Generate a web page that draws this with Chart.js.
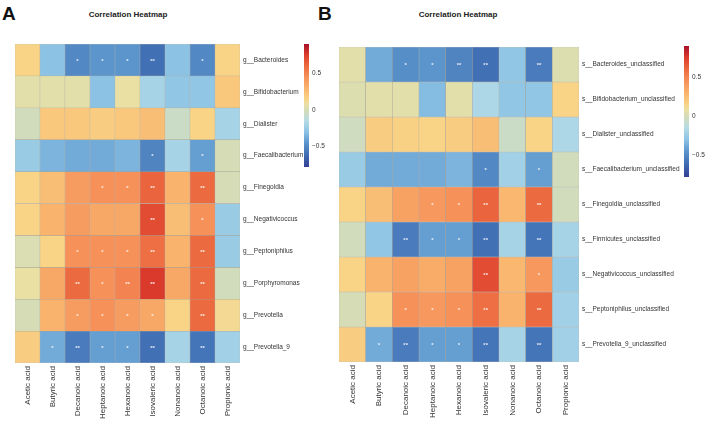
<!DOCTYPE html>
<html>
<head>
<meta charset="utf-8">
<script src="https://cdn.jsdelivr.net/npm/chart.js@4.4.1/dist/chart.umd.min.js"></script>
<style>
  body { margin: 0; background: #fff; width: 708px; height: 424px; position: relative; overflow: hidden;
         font-family: 'Liberation Sans', Arial, sans-serif; }
  canvas { position: absolute; }
  .title { position: absolute; font-weight: bold; font-size: 8px; color: #222; white-space: nowrap; transform: translateX(-50%); }
  .panel { position: absolute; font-weight: bold; font-size: 19px; color: #111; }
</style>
</head>
<body>
<div class="panel" style="left:2px;top:3px">A</div>
<div class="title" style="left:128px;top:10px">Correlation Heatmap</div>
<div class="panel" style="left:318px;top:3px">B</div>
<div class="title" style="left:458px;top:10px">Correlation Heatmap</div>

<canvas id="heatA" width="335" height="424" style="left:0;top:0"></canvas>
<canvas id="barA" width="45" height="180" style="left:295px;top:0"></canvas>
<canvas id="heatB" width="373" height="424" style="left:335px;top:0"></canvas>
<canvas id="barB" width="33" height="190" style="left:675px;top:0"></canvas>

<script>
// columns (acids), shared by both panels
var acids = ['Acetic acid', 'Butyric acid', 'Decanoic acid', 'Heptanoic acid', 'Hexanoic acid',
             'Isovaleric acid', 'Nonanoic acid', 'Octanoic acid', 'Propionic acid'];

// panel A rows, correlation values and significance marks
var generaA = ['g__Bacteroides', 'g__Bifidobacterium', 'g__Dialister', 'g__Faecalibacterium', 'g__Finegoldia',
               'g__Negativicoccus', 'g__Peptoniphilus', 'g__Porphyromonas', 'g__Prevotella', 'g__Prevotella_9'];
var valuesA = [
    [0.15, -0.30, -0.50, -0.45, -0.45, -0.60, -0.30, -0.50, 0.15],
    [0.05, 0.05, 0.05, -0.30, 0.08, -0.20, -0.28, -0.28, 0.20],
    [-0.02, 0.20, 0.20, 0.18, 0.20, 0.25, -0.05, 0.15, -0.20],
    [-0.25, -0.35, -0.38, -0.38, -0.35, -0.52, -0.20, -0.42, 0.00],
    [0.15, 0.25, 0.40, 0.45, 0.45, 0.62, 0.30, 0.60, 0.00],
    [0.15, 0.30, 0.40, 0.35, 0.35, 0.70, 0.25, 0.45, -0.25],
    [0.02, 0.15, 0.45, 0.45, 0.45, 0.58, 0.30, 0.60, -0.25],
    [0.08, 0.35, 0.60, 0.45, 0.50, 0.76, 0.35, 0.60, -0.02],
    [0.00, 0.30, 0.40, 0.45, 0.40, 0.35, 0.15, 0.60, 0.12],
    [0.18, -0.38, -0.55, -0.42, -0.42, -0.60, -0.20, -0.58, -0.22]
];
var starsA = [
    ['', '', '*', '*', '*', '**', '', '*', ''],
    ['', '', '', '', '', '', '', '', ''],
    ['', '', '', '', '', '', '', '', ''],
    ['', '', '', '', '', '*', '', '*', ''],
    ['', '', '', '*', '*', '**', '', '**', ''],
    ['', '', '', '', '', '**', '', '*', ''],
    ['', '', '*', '*', '*', '**', '', '**', ''],
    ['', '', '**', '*', '**', '**', '', '**', ''],
    ['', '', '*', '*', '*', '*', '', '**', ''],
    ['', '*', '**', '*', '*', '**', '', '**', '']
];

// panel B rows, correlation values and significance marks
var speciesB = ['s__Bacteroides_unclassified', 's__Bifidobacterium_unclassified', 's__Dialister_unclassified',
                's__Faecalibacterium_unclassified', 's__Finegoldia_unclassified', 's__Firmicutes_unclassified',
                's__Negativicoccus_unclassified', 's__Peptoniphilus_unclassified', 's__Prevotella_9_unclassified'];
var valuesB = [
    [0.05, -0.38, -0.48, -0.45, -0.52, -0.60, -0.28, -0.55, 0.03],
    [0.03, 0.05, 0.05, -0.32, 0.05, -0.18, -0.28, -0.28, 0.15],
    [-0.03, 0.18, 0.16, 0.15, 0.18, 0.25, -0.05, 0.15, -0.18],
    [-0.25, -0.38, -0.38, -0.38, -0.35, -0.50, -0.22, -0.42, -0.02],
    [0.15, 0.25, 0.38, 0.42, 0.45, 0.62, 0.28, 0.60, -0.02],
    [-0.02, -0.28, -0.55, -0.42, -0.42, -0.60, -0.20, -0.58, -0.20],
    [0.15, 0.30, 0.38, 0.33, 0.38, 0.70, 0.28, 0.42, -0.25],
    [0.00, 0.15, 0.45, 0.42, 0.45, 0.58, 0.30, 0.60, -0.22],
    [0.18, -0.38, -0.55, -0.42, -0.42, -0.58, -0.20, -0.58, -0.22]
];
var starsB = [
    ['', '', '*', '*', '**', '**', '', '**', ''],
    ['', '', '', '', '', '', '', '', ''],
    ['', '', '', '', '', '', '', '', ''],
    ['', '', '', '', '', '*', '', '*', ''],
    ['', '', '', '*', '*', '**', '', '**', ''],
    ['', '', '**', '*', '*', '**', '', '**', ''],
    ['', '', '', '', '', '**', '', '*', ''],
    ['', '', '*', '*', '*', '**', '', '**', ''],
    ['', '*', '**', '*', '*', '**', '', '**', '']
];

// colour key
var cbMin = -0.78, cbMax = 0.9;
var cbTicks = [-0.5, 0, 0.5];
var cbTickLabels = ['\u22120.5', '0', '0.5'];

var colorStops = [
    [-0.78, '#333f94'], [-0.6, '#4170b5'], [-0.45, '#5b95cc'], [-0.3, '#8cc3e5'],
    [-0.15, '#b5dbe6'], [0, '#d5dcb6'], [0.08, '#ebe0a4'], [0.15, '#f9d386'],
    [0.3, '#f9b36c'], [0.45, '#f6915a'], [0.6, '#ec6a40'], [0.75, '#dc3d2c'], [0.9, '#a8102a']
];

function hexToRgb(h) {
    return [parseInt(h.substr(1, 2), 16), parseInt(h.substr(3, 2), 16), parseInt(h.substr(5, 2), 16)];
}

function colorFor(v) {
    if (v <= colorStops[0][0]) return colorStops[0][1];
    for (var i = 1; i < colorStops.length; i++) {
        if (v <= colorStops[i][0]) {
            var a = colorStops[i - 1], b = colorStops[i];
            var t = (v - a[0]) / (b[0] - a[0]);
            var ca = hexToRgb(a[1]), cb = hexToRgb(b[1]);
            var c = ca.map(function (x, k) { return Math.round(x + (cb[k] - x) * t); });
            return 'rgb(' + c.join(',') + ')';
        }
    }
    return colorStops[colorStops.length - 1][1];
}

// draws the * / ** marks in the middle of each cell
var starPlugin = {
    id: 'stars',
    afterDatasetsDraw: function (chart) {
        var c = chart.ctx;
        c.save();
        c.fillStyle = 'rgba(255,255,255,0.85)';
        c.font = 'bold 6px "Liberation Sans", Arial';
        c.textAlign = 'center';
        c.textBaseline = 'middle';
        chart.data.datasets.forEach(function (ds, i) {
            chart.getDatasetMeta(i).data.forEach(function (bar, j) {
                var s = ds.stars[j];
                if (!s) return;
                c.fillText(s, bar.x, (bar.y + bar.base) / 2 + 1);
            });
        });
        c.restore();
    }
};

var noGrid = { display: false, drawTicks: false, tickLength: 0 };

function heatmap(id, rows, values, stars, cfg) {
    var datasets = rows.map(function (r, i) {
        return {
            label: r,
            data: acids.map(function () { return 1; }),
            backgroundColor: values[i].map(colorFor),
            borderColor: 'rgba(150,145,130,0.7)',
            borderWidth: 0.5,
            borderSkipped: false,
            stars: stars[i]
        };
    });

    new Chart(document.getElementById(id), {
        type: 'bar',
        data: { labels: acids, datasets: datasets },
        options: {
            responsive: false,
            animation: false,
            layout: { padding: { left: cfg.left, top: cfg.top, right: 0, bottom: 0 } },
            plugins: { legend: { display: false }, tooltip: { enabled: false } },
            datasets: { bar: { categoryPercentage: 1, barPercentage: 1 } },
            scales: {
                x: {
                    stacked: true,
                    grid: noGrid,
                    border: { display: false },
                    ticks: { minRotation: 90, maxRotation: 90, autoSkip: false, padding: 3, color: '#333',
                             font: { size: 8, family: '"Liberation Sans", Arial' } },
                    afterFit: function (s) { s.height = cfg.xh; }
                },
                y: {
                    stacked: true,
                    position: 'right',
                    reverse: true,
                    min: 0,
                    max: rows.length,
                    grid: noGrid,
                    border: { display: false },
                    afterBuildTicks: function (s) {
                        s.ticks = rows.map(function (r, i) { return { value: i + 0.5 }; });
                    },
                    ticks: {
                        autoSkip: false, padding: 3, color: '#333',
                        font: { size: 6.5, family: '"Liberation Sans", Arial' },
                        callback: function (v) { return rows[Math.floor(v)]; }
                    },
                    afterFit: function (s) { s.width = cfg.yw; }
                }
            }
        },
        plugins: [starPlugin]
    });
}

function colorbar(id, cfg) {
    new Chart(document.getElementById(id), {
        type: 'bar',
        data: {
            labels: [''],
            datasets: [{
                data: [[cbMin, cbMax]],
                borderWidth: 0,
                backgroundColor: function (ctx) {
                    var chart = ctx.chart;
                    if (!chart.chartArea) return null;
                    var y0 = chart.scales.y.getPixelForValue(cbMin);
                    var y1 = chart.scales.y.getPixelForValue(cbMax);
                    var g = chart.ctx.createLinearGradient(0, y0, 0, y1);
                    colorStops.forEach(function (s) {
                        g.addColorStop((s[0] - cbMin) / (cbMax - cbMin), s[1]);
                    });
                    return g;
                }
            }]
        },
        options: {
            responsive: false,
            animation: false,
            layout: { padding: { left: cfg.left, top: cfg.top, bottom: cfg.bottom, right: 0 } },
            plugins: { legend: { display: false }, tooltip: { enabled: false } },
            datasets: { bar: { categoryPercentage: 1, barPercentage: 1 } },
            scales: {
                x: { display: false },
                y: {
                    position: 'right',
                    min: cbMin,
                    max: cbMax,
                    grid: noGrid,
                    border: { display: false },
                    afterBuildTicks: function (s) {
                        s.ticks = cbTicks.map(function (v) { return { value: v }; });
                    },
                    ticks: {
                        padding: 3, color: '#333',
                        font: { size: 6.5, family: '"Liberation Sans", Arial' },
                        callback: function (v) { return cbTickLabels[cbTicks.indexOf(v)]; }
                    },
                    afterFit: function (s) { s.width = cfg.yw; }
                }
            }
        }
    });
}

heatmap('heatA', generaA, valuesA, starsA, { left: 15, top: 44, xh: 61, yw: 95 });
heatmap('heatB', speciesB, valuesB, starsB, { left: 4, top: 47, xh: 62, yw: 129 });
colorbar('barA', { left: 9, top: 44, bottom: 13, yw: 31 });
colorbar('barB', { left: 9, top: 46, bottom: 13, yw: 19 });
</script>
</body>
</html>
